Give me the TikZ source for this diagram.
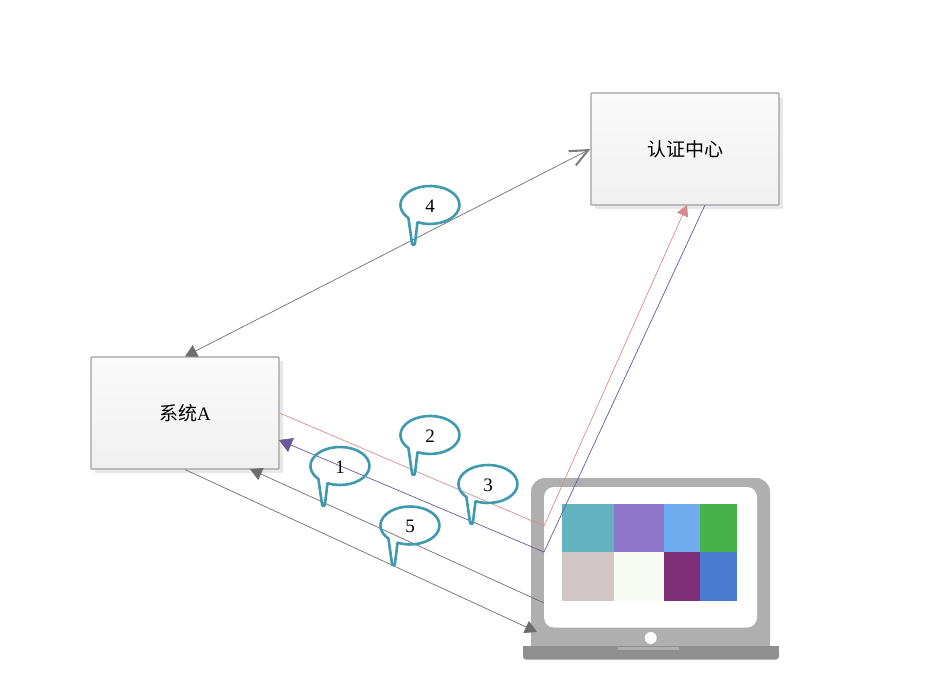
\documentclass[tikz,border=0pt]{standalone}
\usepackage{fontspec}
\setmainfont{Liberation Serif}
\newfontfamily\cjk{Noto Sans CJK SC}
\usetikzlibrary{arrows.meta,shadows}
\definecolor{boxline}{HTML}{A0A0A0}
\definecolor{boxtop}{HTML}{FAFAFA}
\definecolor{boxbottom}{HTML}{F0F0F0}
\definecolor{linkgrey}{HTML}{6E6E6E}
\definecolor{linkred}{HTML}{D68C8C}
\definecolor{linkviolet}{HTML}{6B5896}
\definecolor{bubbleteal}{HTML}{3F9AB0}
\definecolor{laptopbody}{HTML}{AFAFAF}
\definecolor{laptopbase}{HTML}{8F8F8F}
\definecolor{tilea}{HTML}{62B3BF}
\definecolor{tileb}{HTML}{8E76C9}
\definecolor{tilec}{HTML}{70ADEE}
\definecolor{tiled}{HTML}{47B24B}
\definecolor{tilee}{HTML}{D0C6C6}
\definecolor{tilef}{HTML}{F6FBF3}
\definecolor{tileg}{HTML}{7F2F78}
\definecolor{tileh}{HTML}{4A7AD0}
\tikzset{
  sysbox/.style={draw=boxline, line width=1.2pt, rounded corners=0.8pt, top color=boxtop, bottom color=boxbottom,
    minimum width=188pt, minimum height=112pt, inner sep=0pt, font=\fontsize{19}{22}\selectfont,
    drop shadow={shadow xshift=4pt, shadow yshift=-4pt, fill=black!9, opacity=1}},
  greylink/.style={draw=linkgrey, line width=0.7pt},
  redlink/.style={draw=linkred, line width=0.7pt},
  violetlink/.style={draw=linkviolet, line width=0.7pt},
  solidtip/.tip={Triangle[length=12pt, width=13pt]},
  bubbleline/.style={draw=bubbleteal, line width=2.6pt, line join=bevel},
  bubbletext/.style={inner sep=0pt, font=\fontsize{19}{22}\selectfont}
}
\begin{document}
\begin{tikzpicture}[x=1pt,y=-1pt]
\useasboundingbox (0,0) rectangle (934,696);

\fill[laptopbody] (531,560) {[rounded corners=14pt] -- (531,478) -- (770,478) -- (770,560)} {[rounded corners=5pt] -- (770,652) -- (531,652)} -- cycle;
\fill[white, rounded corners=10pt] (544,627.5) -- (544,487) -- (757,487) -- (757,627.5) -- cycle;
\foreach \xa/\xb/\ya/\yb/\tile in {562.3/614.3/504.3/552.3/tilea, 614.3/664.3/504.3/552.3/tileb, 664.3/700.3/504.3/552.3/tilec, 700.3/737.3/504.3/552.3/tiled, 562.3/614.3/552.3/601.3/tilee, 614.3/664.3/552.3/601.3/tilef, 664.3/700.3/552.3/601.3/tileg, 700.3/737.3/552.3/601.3/tileh} {\fill[\tile] (\xa,\ya) rectangle (\xb,\yb);}
\fill[white] (650.7,638) circle [radius=6];
\fill[laptopbase, rounded corners=3pt] (523,650) -- (523,659.5) -- (779,659.5) -- (779,650) -- cycle;
\fill[laptopbase] (523,646) rectangle (779,654);
\fill[laptopbody] (618,646.5) rectangle (679,650);

\node[sysbox] (sysA) at (185,413) {\raisebox{-1pt}{\cjk 系统\rmfamily A}};
\node[sysbox] (auth) at (685,149) {\raisebox{-1pt}{\cjk 认证中心}};

\coordinate (redbend) at (544,526);
\coordinate (violetbend) at (544,552);
\coordinate (redend) at (687,205);
\coordinate (violetstart) at (705,205);
\coordinate (violetend) at (279,440);
\coordinate (backstart) at (544,603);
\coordinate (backend) at (250,469);
\coordinate (laptopin) at (537,632);

\draw[greylink, {solidtip[fill=linkgrey]}-{Straight Barb[length=18pt, width=16pt, line width=2pt, color=linkgrey!90!white]}] (sysA.north) -- (auth.west);
\draw[redlink, -{solidtip[length=11pt, width=12pt, fill=linkred]}] (sysA.east) -- (redbend) -- (redend);
\draw[violetlink, -{solidtip[length=13pt, width=15pt, fill=linkviolet]}] (violetstart) -- (violetbend) -- (violetend);
\draw[greylink, -{solidtip[fill=linkgrey]}] (backstart) -- (backend);
\draw[greylink, -{solidtip[fill=linkgrey]}] (sysA.south) -- (laptopin);

\foreach \n/\cx/\cy in {1/340/466, 2/430/435, 3/488/484, 4/430/205, 5/410/525.5} {
  \draw[bubbleline] (\cx-12.5,\cy+17.2) arc [x radius=29.5, y radius=19, start angle=115, end angle=-223] -- (\cx-17.8,\cy+39.5) -- (\cx-15.2,\cy+39.5) -- cycle;
  \node[bubbletext] (bubble\n) at (\cx,\cy+1) {\n};
}
\end{tikzpicture}
\end{document}
